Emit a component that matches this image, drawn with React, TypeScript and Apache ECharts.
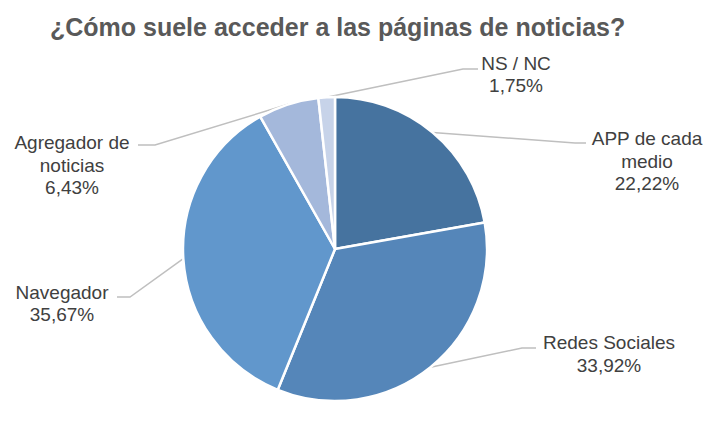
import React, { useEffect, useRef } from "react";
import * as echarts from "echarts";

const titleText = "¿Cómo suele acceder a las páginas de noticias?";
const categories = ["APP de cada\nmedio", "Redes Sociales", "Navegador", "Agregador de\nnoticias", "NS / NC"];
const values = [22.22, 33.92, 35.67, 6.43, 1.75];
const colors = ["#46739f", "#5586b9", "#6197cc", "#a4b8db", "#c7d3e9"];

// label placement (layout only): label block centre, elbow, line end
const labelPlacement = [
  { x: 647, y: 161, elbow: [575, 143], end: [586, 143] },
  { x: 609, y: 354, elbow: [522, 348], end: [536, 348] },
  { x: 62, y: 303.5, elbow: [130, 297], end: [117, 297] },
  { x: 72, y: 165, elbow: [155, 145], end: [138, 145] },
  { x: 516, y: 74.5, elbow: [463, 69], end: [478, 69] },
];

export default function App() {
  const ref = useRef<HTMLDivElement>(null);
  useEffect(() => {
    if (!ref.current) return;
    const chart = echarts.init(ref.current, null, { renderer: "svg" });
    chart.setOption({
      animation: false,
      backgroundColor: "#ffffff",
      title: {
        text: titleText,
        left: 45,
        top: 9,
        textStyle: {
          fontFamily: "Liberation Sans, Arial, sans-serif",
          fontSize: 25,
          fontWeight: "bold",
          color: "#595959",
        },
      },
      series: [
        {
          type: "pie",
          center: [335, 249],
          radius: 152,
          startAngle: 90,
          clockwise: true,
          avoidLabelOverlap: false,
          itemStyle: { borderColor: "#ffffff", borderWidth: 2.5 },
          data: categories.map((name, i) => ({
            name,
            value: values[i],
            itemStyle: { color: colors[i] },
          })),
          label: {
            show: true,
            position: "outside",
            fontFamily: "Liberation Sans, Arial, sans-serif",
            fontSize: 19,
            lineHeight: 22.5,
            color: "#404040",
            align: "center",
            formatter: (p: any) =>
              p.name + "\n" + Number(p.value).toFixed(2).replace(".", ",") + "%",
          },
          labelLine: {
            show: true,
            length: 20,
            length2: 10,
            lineStyle: { color: "#bfbfbf", width: 1.5 },
          },
          labelLayout: (params: any) => {
            const lp = labelPlacement[params.dataIndex];
            const start = params.labelLinePoints ? params.labelLinePoints[0] : lp.elbow;
            return {
              x: lp.x,
              y: lp.y,
              align: "center",
              verticalAlign: "middle",
              labelLinePoints: [start, lp.elbow, lp.end],
            };
          },
        },
      ],
    });
    return () => chart.dispose();
  }, []);
  return (
    <div
      ref={ref}
      style={{ position: "fixed", left: 0, top: 0, width: 715, height: 436, background: "#fff" }}
    />
  );
}
